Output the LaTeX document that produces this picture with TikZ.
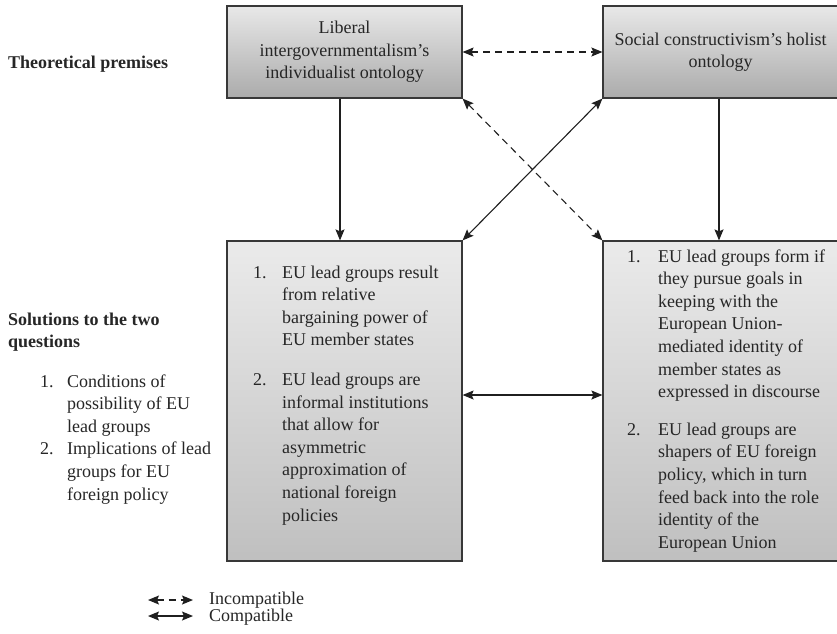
\documentclass[tikz,border=0pt]{standalone}
\usepackage{fontspec}
\setmainfont{Liberation Serif}
\usetikzlibrary{arrows.meta}
\begin{document}
\begin{tikzpicture}[x=1pt,y=-1pt,
  >={Stealth[length=11pt,width=9pt,inset=2pt]},
  txt/.style={font=\fontsize{18}{22.6}\selectfont, text=black!85, inner sep=0pt},
  boldtxt/.style={txt, font=\fontsize{18}{22.6}\selectfont\bfseries},
  topbox/.style={draw=black!78, line width=1.2pt, top color=black!9, bottom color=black!33,
    minimum width=235pt, minimum height=92pt, align=center, inner sep=0pt,
    font=\fontsize{18}{22.6}\selectfont, text=black!85},
  lowbox/.style={draw=black!78, line width=1.2pt, top color=black!8, bottom color=black!25,
    minimum width=235pt, minimum height=320pt, inner sep=0pt},
  conn/.style={draw=black!88, line width=1.1pt, <->},
  incomp/.style={conn, dash pattern=on 7pt off 5pt},
  down/.style={draw=black!88, line width=1.1pt, ->}
]
\useasboundingbox (0,0) rectangle (837,633);

% boxes
\node[topbox] (tl) at (344.5,52) {Liberal\\intergovernmentalism’s\\individualist ontology};
\node[topbox] (tr) at (720.5,52) {Social constructivism’s holist\\ontology};
\node[lowbox] (bl) at (344.5,401) {};
\node[lowbox] (br) at (720.5,401) {};

% box texts
\node[txt, anchor=base west] (bltext) at (253,278) {%
\begin{tabular}[t]{@{}l@{}l@{}}
\makebox[29pt][l]{1.} & EU lead groups result\\
 & from relative\\
 & bargaining power of\\
 & EU member states\\[17pt]
\makebox[29pt][l]{2.} & EU lead groups are\\
 & informal institutions\\
 & that allow for\\
 & asymmetric\\
 & approximation of\\
 & national foreign\\
 & policies
\end{tabular}};

\node[txt, anchor=base west] (brtext) at (627,262) {%
\begin{tabular}[t]{@{}l@{}l@{}}
\makebox[31pt][l]{1.} & EU lead groups form if\\
 & they pursue goals in\\
 & keeping with the\\
 & European Union-\\
 & mediated identity of\\
 & member states as\\
 & expressed in discourse\\[15pt]
\makebox[31pt][l]{2.} & EU lead groups are\\
 & shapers of EU foreign\\
 & policy, which in turn\\
 & feed back into the role\\
 & identity of the\\
 & European Union
\end{tabular}};

% left labels
\node[boldtxt, anchor=base west] (theo) at (8,68) {Theoretical premises};
\node[boldtxt, anchor=base west] (sol) at (8,325) {%
\begin{tabular}[t]{@{}l@{}}Solutions to the two\\questions\end{tabular}};
\node[txt, anchor=base west] (qlist) at (40,387) {%
\begin{tabular}[t]{@{}l@{}l@{}}
\makebox[27pt][l]{1.} & Conditions of\\
 & possibility of EU\\
 & lead groups\\
\makebox[27pt][l]{2.} & Implications of lead\\
 & groups for EU\\
 & foreign policy
\end{tabular}};

% connectors
\draw[incomp] (tl.east) -- (tr.west);
\draw[down] ([xshift=-4.5pt]tl.south) -- ([xshift=-4.5pt]bl.north);
\draw[down] ([xshift=-1.5pt]tr.south) -- ([xshift=-1.5pt]br.north);
\draw[conn] (bl.north east) -- (tr.south west);
\draw[incomp] (tl.south east) -- (br.north west);
\draw[conn] ([yshift=6pt]bl.east) -- ([yshift=6pt]br.west);

% legend
\coordinate (i1) at (148,600);
\coordinate (i2) at (193,600);
\coordinate (c1) at (148,616);
\coordinate (c2) at (193,616);
\draw[incomp] (i1) -- (i2);
\draw[conn] (c1) -- (c2);
\node[txt, anchor=west] (inc) at (209,600) {Incompatible};
\node[txt, anchor=west] (com) at (209,617) {Compatible};
\end{tikzpicture}
\end{document}
